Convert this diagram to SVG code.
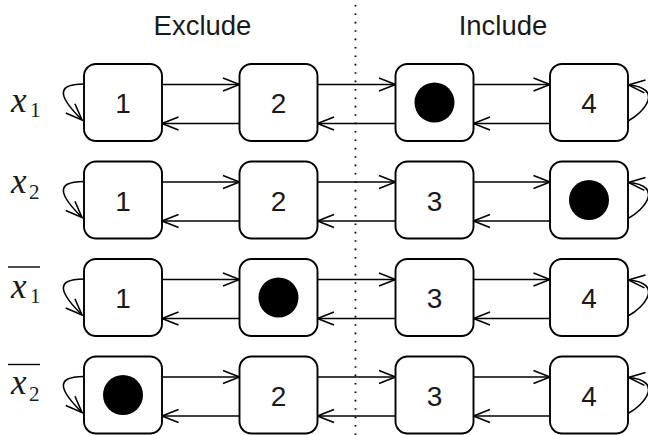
<svg xmlns="http://www.w3.org/2000/svg" width="648" height="435" viewBox="0 0 648 435">
  <style>
    .box { fill: #ffffff; stroke: #000000; stroke-width: 1.9; }
    .num { font-family: "Liberation Sans", Arial, sans-serif; font-size: 28px; fill: #1a1a1a; text-anchor: middle; }
    .head { font-family: "Liberation Sans", Arial, sans-serif; font-size: 27.5px; fill: #1a1a1a; text-anchor: middle; }
    .var { font-family: "Liberation Serif", "Times New Roman", serif; font-style: italic; font-size: 35px; fill: #1a1a1a; }
    .sub { font-family: "Liberation Serif", "Times New Roman", serif; font-size: 21px; fill: #1a1a1a; }
    .bar { stroke: #000000; stroke-width: 1.4; }
    .edge { fill: none; stroke: #000000; stroke-width: 1.6; marker-end: url(#open); }
    .token { fill: #000000; }
    .divider { stroke: #000000; stroke-width: 1.8; stroke-dasharray: 1.6 6.8; }
  </style>
  <defs>
    <marker id="open" markerUnits="userSpaceOnUse" markerWidth="24" markerHeight="18" refX="17" refY="7" orient="auto" overflow="visible">
      <path d="M0.5,0.5 L17,7 L0.5,13.5" fill="none" stroke="#000000" stroke-width="1.6" stroke-linejoin="miter"/>
    </marker>
  </defs>

  <!-- column headings and the divider between them -->
  <text class="head" x="202.5" y="35">Exclude</text>
  <text class="head" x="503" y="35">Include</text>
  <line class="divider" x1="355.5" y1="5" x2="355.5" y2="435"/>

  <!-- row labels -->
  <g id="label-x1">
    <text class="var" x="11" y="112">x</text>
    <text class="sub" x="30" y="117">1</text>
  </g>
  <g id="label-x2">
    <text class="var" x="11" y="193">x</text>
    <text class="sub" x="29" y="199">2</text>
  </g>
  <g id="label-not-x1">
    <line class="bar" x1="8" y1="267" x2="40" y2="267"/>
    <text class="var" x="11" y="298">x</text>
    <text class="sub" x="30" y="303">1</text>
  </g>
  <g id="label-not-x2">
    <line class="bar" x1="8" y1="364.5" x2="40" y2="364.5"/>
    <text class="var" x="11" y="394">x</text>
    <text class="sub" x="29" y="401">2</text>
  </g>

  <!-- connectors: forward (upper), backward (lower) and end self-loops -->
  <g id="connectors">
    <!-- row 1 -->
    <path class="edge" d="M84,84 C52,84 62,100 82,120"/>
    <path class="edge" d="M162,84.5 H239.5"/>
    <path class="edge" d="M239.5,123.5 H162"/>
    <path class="edge" d="M317.5,84.5 H395.5"/>
    <path class="edge" d="M395.5,123.5 H317.5"/>
    <path class="edge" d="M473.5,84.5 H550"/>
    <path class="edge" d="M550,123.5 H473.5"/>
    <path class="edge" d="M628,121 C645,112 664,88 628.5,85"/>
    <!-- row 2 -->
    <path class="edge" d="M84,181.5 C52,181.5 62,197.5 82,217.5"/>
    <path class="edge" d="M162,182 H239.5"/>
    <path class="edge" d="M239.5,221 H162"/>
    <path class="edge" d="M317.5,182 H395.5"/>
    <path class="edge" d="M395.5,221 H317.5"/>
    <path class="edge" d="M473.5,182 H550"/>
    <path class="edge" d="M550,221 H473.5"/>
    <path class="edge" d="M628,218.5 C645,209.5 664,185.5 628.5,182.5"/>
    <!-- row 3 -->
    <path class="edge" d="M84,279 C52,279 62,295 82,315"/>
    <path class="edge" d="M162,279.5 H239.5"/>
    <path class="edge" d="M239.5,318.5 H162"/>
    <path class="edge" d="M317.5,279.5 H395.5"/>
    <path class="edge" d="M395.5,318.5 H317.5"/>
    <path class="edge" d="M473.5,279.5 H550"/>
    <path class="edge" d="M550,318.5 H473.5"/>
    <path class="edge" d="M628,316 C645,307 664,283 628.5,280"/>
    <!-- row 4 -->
    <path class="edge" d="M84,376.5 C52,376.5 62,392.5 82,412.5"/>
    <path class="edge" d="M162,377 H239.5"/>
    <path class="edge" d="M239.5,416 H162"/>
    <path class="edge" d="M317.5,377 H395.5"/>
    <path class="edge" d="M395.5,416 H317.5"/>
    <path class="edge" d="M473.5,377 H550"/>
    <path class="edge" d="M550,416 H473.5"/>
    <path class="edge" d="M628,413.5 C645,404.5 664,380.5 628.5,377.5"/>
  </g>

  <!-- row 1 states -->
  <g id="r1-s1"><rect class="box" x="84" y="64" width="78" height="77" rx="12"/><text class="num" x="123" y="113">1</text></g>
  <g id="r1-s2"><rect class="box" x="239.5" y="64" width="78" height="77" rx="12"/><text class="num" x="278.5" y="113">2</text></g>
  <g id="r1-s3"><rect class="box" x="395.5" y="64" width="78" height="77" rx="12"/><circle class="token" cx="434.5" cy="102.5" r="20"/></g>
  <g id="r1-s4"><rect class="box" x="550" y="64" width="78" height="77" rx="12"/><text class="num" x="589" y="113">4</text></g>

  <!-- row 2 states -->
  <g id="r2-s1"><rect class="box" x="84" y="161.5" width="78" height="77" rx="12"/><text class="num" x="123" y="210.5">1</text></g>
  <g id="r2-s2"><rect class="box" x="239.5" y="161.5" width="78" height="77" rx="12"/><text class="num" x="278.5" y="210.5">2</text></g>
  <g id="r2-s3"><rect class="box" x="395.5" y="161.5" width="78" height="77" rx="12"/><text class="num" x="434.5" y="210.5">3</text></g>
  <g id="r2-s4"><rect class="box" x="550" y="161.5" width="78" height="77" rx="12"/><circle class="token" cx="589" cy="200" r="20"/></g>

  <!-- row 3 states -->
  <g id="r3-s1"><rect class="box" x="84" y="259" width="78" height="77" rx="12"/><text class="num" x="123" y="308">1</text></g>
  <g id="r3-s2"><rect class="box" x="239.5" y="259" width="78" height="77" rx="12"/><circle class="token" cx="278.5" cy="297.5" r="20"/></g>
  <g id="r3-s3"><rect class="box" x="395.5" y="259" width="78" height="77" rx="12"/><text class="num" x="434.5" y="308">3</text></g>
  <g id="r3-s4"><rect class="box" x="550" y="259" width="78" height="77" rx="12"/><text class="num" x="589" y="308">4</text></g>

  <!-- row 4 states -->
  <g id="r4-s1"><rect class="box" x="84" y="356.5" width="78" height="77" rx="12"/><circle class="token" cx="123" cy="395" r="20"/></g>
  <g id="r4-s2"><rect class="box" x="239.5" y="356.5" width="78" height="77" rx="12"/><text class="num" x="278.5" y="405.5">2</text></g>
  <g id="r4-s3"><rect class="box" x="395.5" y="356.5" width="78" height="77" rx="12"/><text class="num" x="434.5" y="405.5">3</text></g>
  <g id="r4-s4"><rect class="box" x="550" y="356.5" width="78" height="77" rx="12"/><text class="num" x="589" y="405.5">4</text></g>
</svg>
